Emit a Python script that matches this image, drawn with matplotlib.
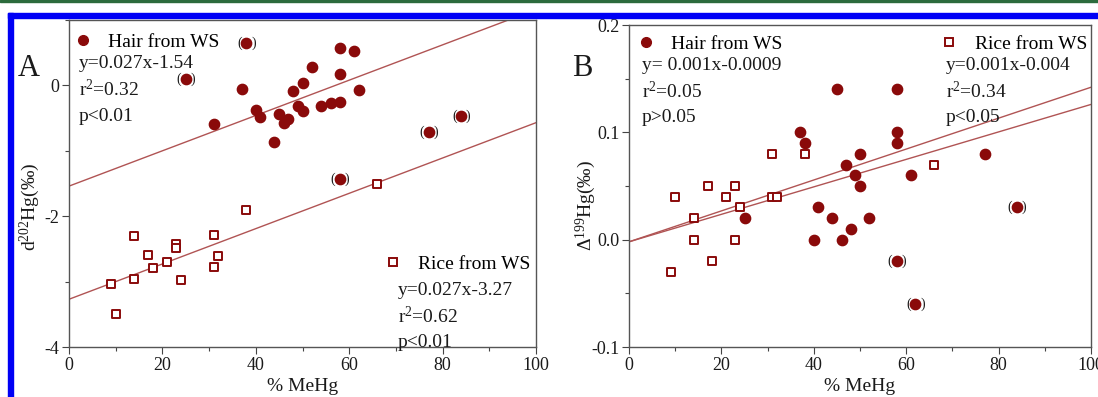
import matplotlib.pyplot as plt
from matplotlib.patches import Rectangle
from matplotlib.lines import Line2D
from matplotlib.ticker import MultipleLocator
import numpy as np

# %% data
# panel A: d202Hg vs %MeHg
hair_a_x = [38, 25, 31, 37, 40, 41, 44, 45, 46, 47, 48, 49, 50, 50, 52, 54, 56, 58, 58, 58, 61, 62, 77, 84, 58]
hair_a_y = [0.65, 0.10, -0.59, -0.06, -0.37, -0.48, -0.86, -0.44, -0.57, -0.51, -0.08, -0.32, -0.39, 0.03,
            0.28, -0.31, -0.27, -0.26, 0.17, 0.57, 0.52, -0.07, -0.71, -0.47, -1.43]
hair_a_excluded = [38, 25, 77, 84, 58]  # bracketed points
hair_a_excluded_y = [0.65, 0.10, -0.71, -0.47, -1.43]
rice_a_x = [66, 38, 14, 31, 23, 23, 17, 32, 21, 18, 31, 14, 24, 9, 10]
rice_a_y = [-1.51, -1.90, -2.30, -2.28, -2.42, -2.49, -2.60, -2.61, -2.70, -2.79, -2.78, -2.96, -2.97, -3.04, -3.50]

# panel B: D199Hg vs %MeHg
hair_b_x = [45, 58, 37, 38, 58, 58, 50, 47, 49, 61, 50, 77, 25, 41, 44, 52, 48, 40, 46, 84, 58, 62]
hair_b_y = [0.14, 0.14, 0.10, 0.09, 0.10, 0.09, 0.08, 0.07, 0.06, 0.06, 0.05, 0.08, 0.02, 0.03, 0.02, 0.02,
            0.01, 0.0, 0.0, 0.03, -0.02, -0.06]
hair_b_excluded = [84, 58, 62]
hair_b_excluded_y = [0.03, -0.02, -0.06]
rice_b_x = [9, 10, 14, 14, 17, 18, 21, 23, 23, 24, 31, 31, 32, 38, 66]
rice_b_y = [-0.03, 0.04, 0.02, 0.0, 0.05, -0.02, 0.04, 0.05, 0.0, 0.03, 0.08, 0.04, 0.04, 0.08, 0.07]

# regression lines (slope, intercept) as drawn
fit_a = [(0.027, -1.54), (0.027, -3.27)]
fit_b = [(0.00144, -0.002), (0.00128, -0.002)]

hair_a_text = ["y=0.027x-1.54", "r$^2$=0.32", "p<0.01"]
rice_a_text = ["y=0.027x-3.27", "r$^2$=0.62", "p<0.01"]
hair_b_text = ["y= 0.001x-0.0009", "r$^2$=0.05", "p>0.05"]
rice_b_text = ["y=0.001x-0.004", "r$^2$=0.34", "p<0.05"]

# %%
plt.rcParams["font.family"] = ["Liberation Serif", "DejaVu Serif"]
plt.rcParams["mathtext.fontset"] = "custom"
plt.rcParams["mathtext.rm"] = "Liberation Serif"
plt.rcParams["mathtext.it"] = "Liberation Serif"
plt.rcParams["axes.unicode_minus"] = False

RED = "#8a0a0a"
LINE = "#b05454"
TXT = "#1a1a1a"
FS = 13
FT = 14

fig = plt.figure(figsize=(10.98, 3.97), dpi=100)
axA = fig.add_axes([69 / 1098, 1 - 347 / 397, 467 / 1098, 327 / 397])
axB = fig.add_axes([629 / 1098, 1 - 347 / 397, 462 / 1098, 322 / 397])

# border decoration of the original page
fig.patches.append(Rectangle((0, 1 - 2 / 397), 1, 2 / 397, transform=fig.transFigure, color="#2c6b3c", zorder=0))
fig.patches.append(Rectangle((8 / 1098, 1 - 18 / 397), 1, 5 / 397, transform=fig.transFigure, color="#0000f5", zorder=0))
fig.patches.append(Rectangle((8 / 1098, 0), 5 / 1098, 1 - 13 / 397, transform=fig.transFigure, color="#0000f5", zorder=0))


def style(ax, ymaj, ymin):
    ax.set_xlim(0, 100)
    ax.xaxis.set_major_locator(MultipleLocator(20))
    ax.xaxis.set_minor_locator(MultipleLocator(10))
    ax.yaxis.set_major_locator(MultipleLocator(ymaj))
    ax.yaxis.set_minor_locator(MultipleLocator(ymin))
    ax.tick_params(which="both", direction="out", top=False, right=False, colors="#444444",
                   labelcolor=TXT, labelsize=FS, pad=2)
    ax.tick_params(which="major", length=5, width=0.8)
    ax.tick_params(which="minor", length=3, width=0.8)
    for s in ax.spines.values():
        s.set_color("#555555")
        s.set_linewidth(1.0)
    ax.set_xlabel("% MeHg", fontsize=FT, color=TXT, labelpad=3)


def brackets(ax, xs, ys):
    for x, y in zip(xs, ys):
        for s, dx in (("(", -5.0), (")", 5.0)):
            ax.annotate(s, (x, y), xytext=(dx, 0), textcoords="offset points", ha="center",
                        va="center", fontsize=10, color=TXT, zorder=4)


def stats(ax, x, y0, lines):
    for i, s in enumerate(lines):
        ax.text(x, y0 - i * 0.08, s, transform=ax.transAxes, fontsize=FT, color=TXT, va="center", ha="left")


xx = np.array([0, 100])

# %% panel A
for m, b in fit_a:
    axA.plot(xx, m * xx + b, color=LINE, linewidth=1.0, zorder=1)
axA.scatter(hair_a_x, hair_a_y, s=55, color=RED, zorder=3)
axA.scatter(rice_a_x, rice_a_y, s=30, marker="s", facecolor="white", edgecolor=RED, linewidth=1.4, zorder=3)
brackets(axA, hair_a_excluded, hair_a_excluded_y)
axA.set_ylim(-4, 1)
style(axA, 2, 1)
axA.set_ylabel("d$^{202}$Hg(‰)", fontsize=FT, color=TXT)
axA.yaxis.set_label_coords(-0.058, 0.43)

legA1 = axA.legend(handles=[Line2D([], [], ls="", marker="o", ms=7, color=RED)], labels=["Hair from WS"],
                   loc="center left", bbox_to_anchor=(0.005, 0.933), frameon=False, fontsize=FT,
                   handlelength=1.2, handletextpad=0.7, borderpad=0, borderaxespad=0)
axA.add_artist(legA1)
stats(axA, 0.021, 0.866, hair_a_text)
axA.legend(handles=[Line2D([], [], ls="", marker="s", ms=5.5, mfc="white", mec=RED, mew=1.4)],
           labels=["Rice from WS"], loc="center left", bbox_to_anchor=(0.668, 0.254), frameon=False,
           fontsize=FT, handlelength=1.2, handletextpad=0.7, borderpad=0, borderaxespad=0)
stats(axA, 0.704, 0.174, rice_a_text)
fig.text(18 / 1098, 1 - 68 / 397, "A", fontsize=22, color=TXT, va="center", ha="left")

# %% panel B
for m, b in fit_b:
    axB.plot(xx, m * xx + b, color=LINE, linewidth=1.0, zorder=1)
axB.scatter(hair_b_x, hair_b_y, s=55, color=RED, zorder=3)
axB.scatter(rice_b_x, rice_b_y, s=30, marker="s", facecolor="white", edgecolor=RED, linewidth=1.4, zorder=3)
brackets(axB, hair_b_excluded, hair_b_excluded_y)
axB.set_ylim(-0.1, 0.2)
style(axB, 0.1, 0.05)
axB.yaxis.set_major_formatter(lambda v, p: f"{v:.1f}")
axB.set_ylabel("Δ$^{199}$Hg(‰)", fontsize=FT, color=TXT)
axB.yaxis.set_label_coords(-0.068, 0.44)

legB1 = axB.legend(handles=[Line2D([], [], ls="", marker="o", ms=7, color=RED)], labels=["Hair from WS"],
                   loc="center left", bbox_to_anchor=(0.012, 0.941), frameon=False, fontsize=FT,
                   handlelength=1.2, handletextpad=0.7, borderpad=0, borderaxespad=0)
axB.add_artist(legB1)
stats(axB, 0.028, 0.874, hair_b_text)
axB.legend(handles=[Line2D([], [], ls="", marker="s", ms=5.5, mfc="white", mec=RED, mew=1.4)],
           labels=["Rice from WS"], loc="center left", bbox_to_anchor=(0.668, 0.941), frameon=False,
           fontsize=FT, handlelength=1.2, handletextpad=0.7, borderpad=0, borderaxespad=0)
stats(axB, 0.686, 0.874, rice_b_text)
fig.text(572 / 1098, 1 - 68 / 397, "B", fontsize=22, color=TXT, va="center", ha="left")

plt.savefig("out.png", dpi=100)
